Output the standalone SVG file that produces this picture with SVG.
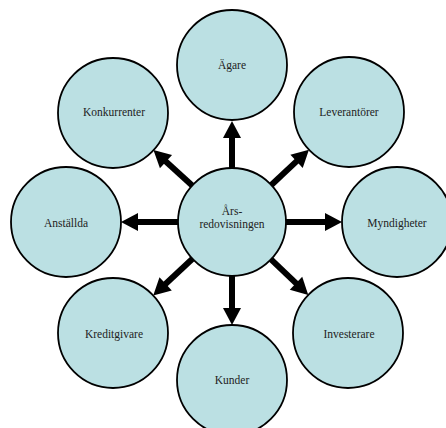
<svg xmlns="http://www.w3.org/2000/svg" width="446" height="428" viewBox="0 0 446 428">
  <style>
    .node circle { fill: #bbe0e3; stroke: #000; stroke-width: 1.8; }
    .node text { font-family: "Liberation Serif", "Times New Roman", serif; font-size: 11.5px; fill: #222; text-anchor: middle; }
    .arrow { stroke: #000; stroke-width: 6; fill: none; marker-end: url(#head); }
  </style>
  <defs>
    <marker id="head" markerUnits="userSpaceOnUse" markerWidth="18" markerHeight="18" refX="5" refY="9" orient="auto" overflow="visible">
      <path d="M0,0 L17,9 L0,18 Z" fill="#000"/>
    </marker>
  </defs>
  <rect width="446" height="428" fill="#fff"/>

  <!-- connectors: from the hub outwards, line ends 12px short of each tip -->
  <g id="connectors">
    <line class="arrow" x1="232" y1="169" x2="232" y2="133"/>
    <line class="arrow" x1="271.3" y1="185" x2="300.2" y2="157.9"/>
    <line class="arrow" x1="286" y1="222" x2="330" y2="222"/>
    <line class="arrow" x1="271" y1="259.3" x2="299.6" y2="286.7"/>
    <line class="arrow" x1="232" y1="275" x2="232" y2="313"/>
    <line class="arrow" x1="192.5" y1="258.8" x2="162" y2="287.3"/>
    <line class="arrow" x1="178" y1="222" x2="133" y2="222"/>
    <line class="arrow" x1="192.2" y1="185.5" x2="162.3" y2="158.2"/>
  </g>

  <g id="hub" class="node">
    <circle cx="232" cy="222" r="54"/>
    <text x="232" y="215">Års-</text>
    <text x="232" y="228">redovisningen</text>
  </g>
  <g id="agare" class="node">
    <circle cx="232" cy="65" r="55"/>
    <text x="232" y="69">Ägare</text>
  </g>
  <g id="leverantorer" class="node">
    <circle cx="349" cy="112" r="55"/>
    <text x="349" y="116">Leverantörer</text>
  </g>
  <g id="myndigheter" class="node">
    <circle cx="397" cy="222" r="55"/>
    <text x="397" y="226.5">Myndigheter</text>
  </g>
  <g id="investerare" class="node">
    <circle cx="348" cy="333" r="55"/>
    <text x="349" y="337.5">Investerare</text>
  </g>
  <g id="kunder" class="node">
    <circle cx="232" cy="380" r="55"/>
    <text x="232" y="384">Kunder</text>
  </g>
  <g id="kreditgivare" class="node">
    <circle cx="113" cy="333" r="55"/>
    <text x="114" y="338">Kreditgivare</text>
  </g>
  <g id="anstallda" class="node">
    <circle cx="66" cy="222" r="55"/>
    <text x="66" y="226.5">Anställda</text>
  </g>
  <g id="konkurrenter" class="node">
    <circle cx="113" cy="113" r="55"/>
    <text x="114" y="116">Konkurrenter</text>
  </g>
</svg>
